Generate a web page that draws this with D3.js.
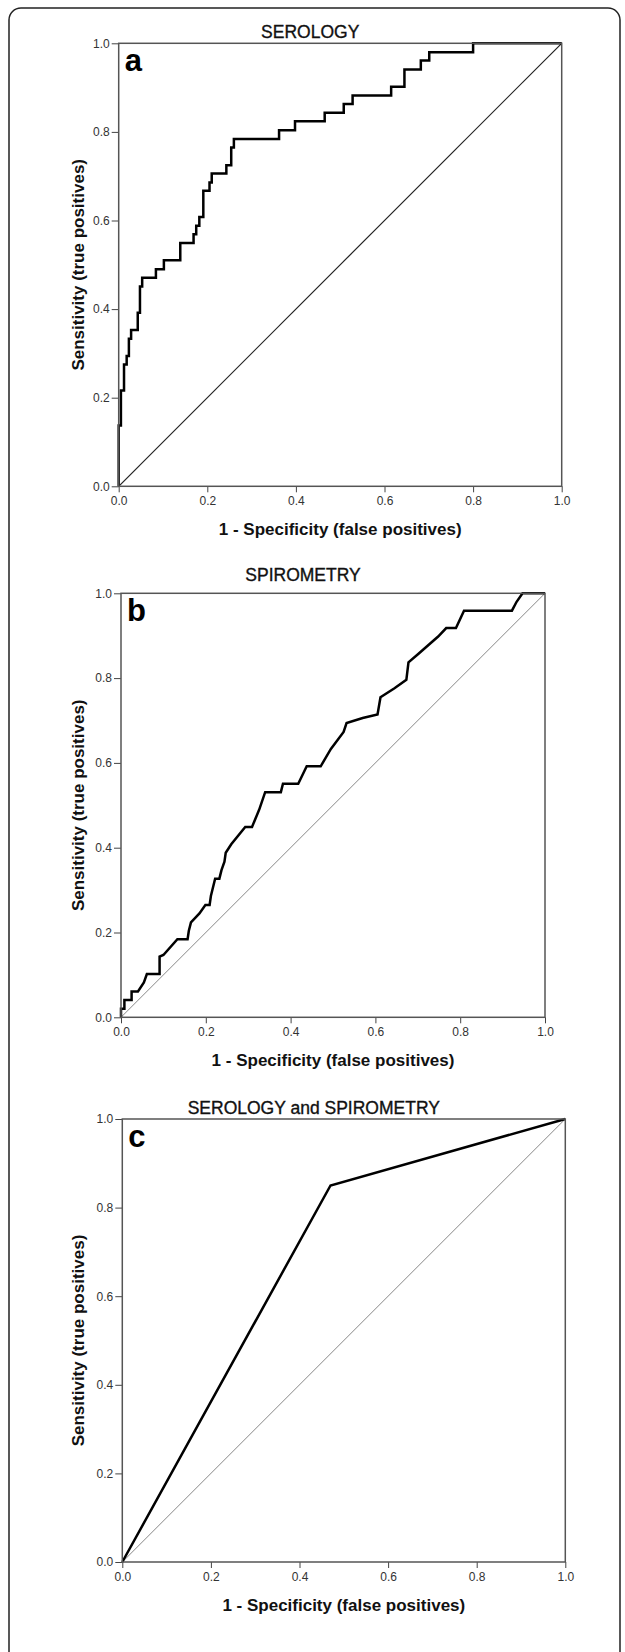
<!DOCTYPE html>
<meta charset="utf-8">
<head>
  <title>ROC curves</title>
  <script src="https://cdn.jsdelivr.net/npm/d3@7"></script>
  <style>
    body { margin: 0; background: #fff; }
    svg { display: block; }
    .tick text { font-family: Arial, "Liberation Sans", sans-serif; font-size: 12px; fill: #333; }
    .tick line { stroke: #444; }
    .domain { display: none; }
    .title { font-family: Arial, "Liberation Sans", sans-serif; font-size: 17.5px; fill: #111; stroke: #111; stroke-width: 0.35px; text-anchor: middle; }
    .axlabel { font-family: Arial, "Liberation Sans", sans-serif; font-size: 17px; font-weight: bold; fill: #111; text-anchor: middle; }
    .letter { font-family: Arial, "Liberation Sans", sans-serif; font-size: 31px; font-weight: bold; fill: #000; }
  </style>
</head>
<body>
<div id="chart"></div>
<script>
// --- data ---
var titles = ["SEROLOGY", "SPIROMETRY", "SEROLOGY and SPIROMETRY"];
var letters = ["a", "b", "c"];
var tickValues = [0, 0.2, 0.4, 0.6, 0.8, 1.0];

var serologyFpr = [0, 0, 0.005, 0.005, 0.012, 0.012, 0.018, 0.018, 0.023, 0.023, 0.028, 0.028,
  0.043, 0.043, 0.048, 0.048, 0.053, 0.053, 0.084, 0.084, 0.102, 0.102, 0.139, 0.139,
  0.169, 0.169, 0.175, 0.175, 0.182, 0.182, 0.191, 0.191, 0.205, 0.205, 0.210, 0.210,
  0.243, 0.243, 0.254, 0.254, 0.260, 0.260, 0.362, 0.362, 0.398, 0.398, 0.465, 0.465,
  0.508, 0.508, 0.528, 0.528, 0.615, 0.615, 0.645, 0.645, 0.682, 0.682, 0.701, 0.701,
  0.800, 0.800, 1];
var serologySens = [0, 0.137, 0.137, 0.216, 0.216, 0.275, 0.275, 0.294, 0.294, 0.333, 0.333, 0.353,
  0.353, 0.392, 0.392, 0.451, 0.451, 0.471, 0.471, 0.490, 0.490, 0.510, 0.510, 0.549,
  0.549, 0.569, 0.569, 0.588, 0.588, 0.608, 0.608, 0.667, 0.667, 0.686, 0.686, 0.706,
  0.706, 0.725, 0.725, 0.765, 0.765, 0.784, 0.784, 0.804, 0.804, 0.824, 0.824, 0.843,
  0.843, 0.863, 0.863, 0.882, 0.882, 0.902, 0.902, 0.941, 0.941, 0.961, 0.961, 0.980,
  0.980, 1, 1];

var spiroFpr = [0, 0, 0.008, 0.008, 0.025, 0.025, 0.040, 0.054, 0.061, 0.091, 0.091, 0.100,
  0.133, 0.157, 0.160, 0.165, 0.185, 0.199, 0.209, 0.212, 0.222, 0.232, 0.237, 0.244,
  0.247, 0.260, 0.293, 0.309, 0.326, 0.340, 0.377, 0.382, 0.418, 0.438, 0.471, 0.495,
  0.525, 0.532, 0.570, 0.605, 0.612, 0.645, 0.673, 0.678, 0.701, 0.748, 0.767, 0.790,
  0.809, 0.922, 0.933, 0.947, 1];
var spiroSens = [0, 0.020, 0.020, 0.041, 0.041, 0.061, 0.061, 0.082, 0.102, 0.102, 0.143, 0.147,
  0.184, 0.184, 0.204, 0.224, 0.245, 0.265, 0.265, 0.286, 0.327, 0.327, 0.347, 0.367,
  0.388, 0.408, 0.449, 0.449, 0.490, 0.531, 0.531, 0.551, 0.551, 0.592, 0.592, 0.633,
  0.673, 0.694, 0.706, 0.714, 0.755, 0.776, 0.796, 0.837, 0.857, 0.898, 0.918, 0.918,
  0.959, 0.959, 0.980, 1, 1];

var comboFpr = [0, 0.47, 1];
var comboSens = [0, 0.85, 1];

// --- layout ---
var W = 625, H = 1652;
var panels = [
  {left: 118.7, top: 43.3, size: 443, fpr: serologyFpr, sens: serologySens, diag: "#222", diagW: 1.2},
  {left: 121, top: 593.3, size: 424, fpr: spiroFpr, sens: spiroSens, diag: "#888", diagW: 1},
  {left: 122.3, top: 1119, size: 443, fpr: comboFpr, sens: comboSens, diag: "#888", diagW: 1}
];
var titleY = [38.3, 581, 1114];

var svg = d3.select("#chart").append("svg")
    .attr("width", W)
    .attr("height", H);

// outer rounded frame (bottom runs off the page)
svg.append("rect")
    .attr("x", 9).attr("y", 8)
    .attr("width", 611).attr("height", 1700)
    .attr("rx", 12)
    .attr("fill", "none")
    .attr("stroke", "#222")
    .attr("stroke-width", 1.5);

panels.forEach(function(p, i) {
  var x = d3.scaleLinear().domain([0, 1]).range([0, p.size]);
  var y = d3.scaleLinear().domain([0, 1]).range([p.size, 0]);

  var g = svg.append("g")
      .attr("transform", "translate(" + p.left + "," + p.top + ")");

  // title (centred on whole chart incl. y label, so shifted left)
  svg.append("text")
      .attr("class", "title")
      .attr("x", p.left + p.size / 2 - 30)
      .attr("y", titleY[i])
      .text(titles[i]);

  // axes
  g.append("g")
      .attr("transform", "translate(0," + p.size + ")")
      .call(d3.axisBottom(x).tickValues(tickValues).tickFormat(d3.format(".1f")).tickSize(6).tickPadding(4));
  g.append("g")
      .call(d3.axisLeft(y).tickValues(tickValues).tickFormat(d3.format(".1f")).tickSize(7).tickPadding(2));

  // diagonal reference
  g.append("line")
      .attr("x1", x(0)).attr("y1", y(0))
      .attr("x2", x(1)).attr("y2", y(1))
      .attr("stroke", p.diag)
      .attr("stroke-width", p.diagW);

  // ROC curve
  var pts = p.fpr.map(function(v, k) { return [v, p.sens[k]]; });
  var line = d3.line()
      .x(function(d) { return x(d[0]); })
      .y(function(d) { return y(d[1]); });
  g.append("path")
      .datum(pts)
      .attr("d", line)
      .attr("fill", "none")
      .attr("stroke", "#000")
      .attr("stroke-width", 2.5)
      .attr("stroke-linejoin", "miter");

  // plot frame
  g.append("rect")
      .attr("width", p.size).attr("height", p.size)
      .attr("fill", "none")
      .attr("stroke", "#555")
      .attr("stroke-width", 1.5);

  // panel letter
  g.append("text")
      .attr("class", "letter")
      .attr("x", 6)
      .attr("y", 28)
      .text(letters[i]);

  // axis labels
  g.append("text")
      .attr("class", "axlabel")
      .attr("x", p.size / 2)
      .attr("y", p.size + 48.5)
      .text("1 - Specificity (false positives)");
  g.append("text")
      .attr("class", "axlabel")
      .attr("transform", "translate(" + (84 - p.left) + "," + (p.size / 2) + ") rotate(-90)")
      .text("Sensitivity (true positives)");
});
</script>
</body>
